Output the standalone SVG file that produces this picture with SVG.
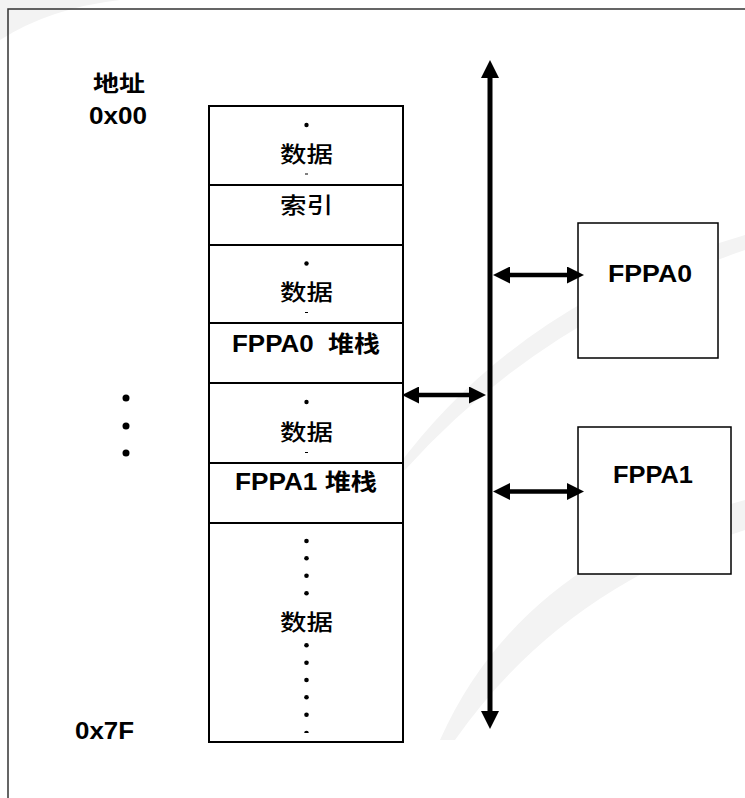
<svg xmlns="http://www.w3.org/2000/svg" width="745" height="798" viewBox="0 0 745 798">
<style>
.t{font-family:"Liberation Sans",Arial,"Noto Sans CJK SC",sans-serif;font-size:23px;font-weight:bold;fill:#000}
.c{font-family:"Noto Sans CJK SC","Liberation Sans",sans-serif;font-size:22px;font-weight:500;fill:#000}
.cb{font-family:"Noto Sans CJK SC","Liberation Sans",sans-serif;font-size:22px;font-weight:bold;fill:#000}
.box{fill:#fff;stroke:#000;stroke-width:2}
.rbox{fill:#fff;stroke:#000;stroke-width:1.5}
.div{stroke:#000;stroke-width:2}
.dot{fill:#000}
.wm{fill:#f3f3f3}
.bus{stroke:#000;stroke-width:5;fill:none}
.arr{stroke:#000;stroke-width:4.5;fill:none}
</style>
<defs>
<marker id="ah" viewBox="0 0 17 17" refX="1" refY="8.5" markerWidth="17" markerHeight="17" orient="auto-start-reverse" markerUnits="userSpaceOnUse"><path d="M0,0 L17,8.5 L0,17 Z" fill="#000"/></marker>
<marker id="bh" viewBox="0 0 18 18" refX="1" refY="9" markerWidth="18" markerHeight="18" orient="auto-start-reverse" markerUnits="userSpaceOnUse"><path d="M0,0 L18,9 L0,18 Z" fill="#000"/></marker>
</defs>
<rect width="745" height="798" fill="#fff"/>
<g id="watermark">
<path class="wm" d="M0,0 H120 Q50,8 0,40 Z"/>
<path class="wm" d="M395,470 Q520,300 745,235 L745,250 Q540,320 405,470 Z"/>
<path class="wm" d="M440,740 Q520,560 745,500 L745,530 Q560,590 455,740 Z"/>
</g>
<path id="frame" d="M745,9 H8 V798" fill="none" stroke="#333" stroke-width="1.5"/>
<g id="labels">
<text class="cb" x="93" y="91" textLength="52" lengthAdjust="spacingAndGlyphs">地址</text>
<text class="t" x="89" y="124" textLength="58" lengthAdjust="spacingAndGlyphs">0x00</text>
<text class="t" x="75" y="739" textLength="59" lengthAdjust="spacingAndGlyphs">0x7F</text>
<circle class="dot" cx="126" cy="398" r="3.5"/>
<circle class="dot" cx="126" cy="426" r="3.5"/>
<circle class="dot" cx="126" cy="453" r="3.5"/>
</g>
<g id="memory">
<rect class="box" x="209" y="106" width="194" height="636"/>
<line class="div" x1="209" y1="185" x2="403" y2="185"/>
<line class="div" x1="209" y1="245" x2="403" y2="245"/>
<line class="div" x1="209" y1="323" x2="403" y2="323"/>
<line class="div" x1="209" y1="383" x2="403" y2="383"/>
<line class="div" x1="209" y1="463" x2="403" y2="463"/>
<line class="div" x1="209" y1="523" x2="403" y2="523"/>
</g>
<g id="sec-data1">
<circle class="dot" cx="306.5" cy="125" r="2.2"/>
<text class="c" x="280" y="161.5" textLength="53" lengthAdjust="spacingAndGlyphs">数据</text>
<rect class="dot" x="305" y="173.5" width="3" height="1"/>
</g>
<g id="sec-index">
<text class="c" x="280" y="213" textLength="53" lengthAdjust="spacingAndGlyphs">索引</text>
</g>
<g id="sec-data2">
<circle class="dot" cx="306.5" cy="263.5" r="2.2"/>
<text class="c" x="280" y="300" textLength="53" lengthAdjust="spacingAndGlyphs">数据</text>
<rect class="dot" x="305" y="312" width="3" height="1"/>
</g>
<g id="sec-stack0">
<text class="t" x="232" y="351.5" textLength="148" lengthAdjust="spacingAndGlyphs" xml:space="preserve" style="white-space:pre">FPPA0  堆栈</text>
</g>
<g id="sec-data3">
<circle class="dot" cx="306.5" cy="402" r="2.2"/>
<text class="c" x="280" y="440" textLength="53" lengthAdjust="spacingAndGlyphs">数据</text>
<rect class="dot" x="305" y="452" width="3" height="1"/>
</g>
<g id="sec-stack1">
<text class="t" x="235" y="490" textLength="142" lengthAdjust="spacingAndGlyphs">FPPA1 堆栈</text>
</g>
<g id="sec-data4">
<circle class="dot" cx="306.5" cy="541" r="2.3"/>
<circle class="dot" cx="306.5" cy="558.3" r="2.3"/>
<circle class="dot" cx="306.5" cy="575.7" r="2.3"/>
<circle class="dot" cx="306.5" cy="593.2" r="2.3"/>
<text class="c" x="280" y="630" textLength="53" lengthAdjust="spacingAndGlyphs">数据</text>
<circle class="dot" cx="306.5" cy="645.3" r="2.3"/>
<circle class="dot" cx="306.5" cy="662.7" r="2.3"/>
<circle class="dot" cx="306.5" cy="680" r="2.3"/>
<circle class="dot" cx="306.5" cy="697.3" r="2.3"/>
<circle class="dot" cx="306.5" cy="714.7" r="2.3"/>
<path class="dot" d="M304.2,733 A2.3,2.3 0 0 1 308.8,733 Z"/>
</g>
<g id="fppa0">
<rect class="rbox" x="578" y="223" width="140" height="135"/>
<text class="t" x="608" y="282" textLength="84" lengthAdjust="spacingAndGlyphs">FPPA0</text>
</g>
<g id="fppa1">
<rect class="rbox" x="578" y="427" width="153" height="147"/>
<text class="t" x="613" y="483" textLength="80" lengthAdjust="spacingAndGlyphs">FPPA1</text>
</g>
<g id="connectors">
<line class="bus" x1="490" y1="77" x2="490" y2="712" marker-start="url(#bh)" marker-end="url(#bh)"/>
<line class="arr" x1="509" y1="275" x2="568" y2="275" marker-start="url(#ah)" marker-end="url(#ah)"/>
<line class="arr" x1="509" y1="491.5" x2="568" y2="491.5" marker-start="url(#ah)" marker-end="url(#ah)"/>
<line class="arr" x1="418" y1="395" x2="470" y2="395" marker-start="url(#ah)" marker-end="url(#ah)"/>
</g>
</svg>
